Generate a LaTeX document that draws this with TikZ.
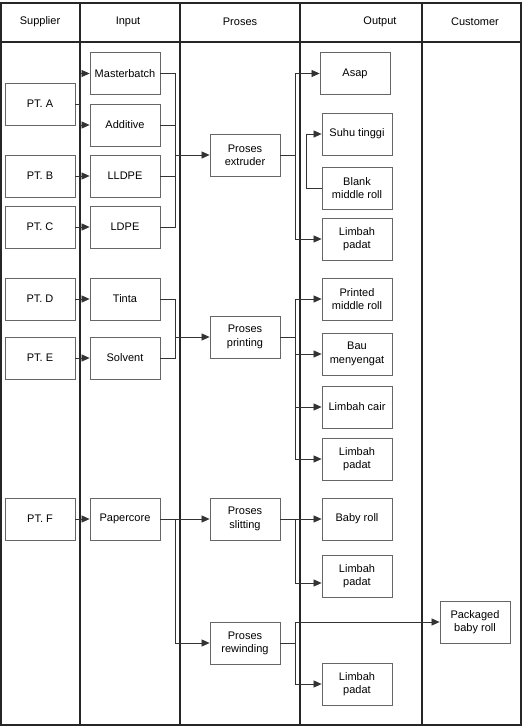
\documentclass[tikz,border=0pt]{standalone}
\usepackage{fontspec}
\setmainfont{Liberation Sans}
\usetikzlibrary{arrows.meta,calc}
\begin{document}
\begin{tikzpicture}[x=1pt,y=-1pt,
  box/.style={draw=black!60, line width=0.8pt, minimum width=70pt, minimum height=42pt, inner sep=1pt, align=center, font=\fontsize{11}{13.3}\selectfont},
  hdr/.style={font=\fontsize{11}{13}\selectfont},
  frame/.style={line width=1.4pt, black!85},
  conn/.style={line width=0.7pt, black!80},
  arr/.style={conn, -{Triangle[length=8pt,width=7pt]}}]
\useasboundingbox (0,0) rectangle (523,727);
% frame
\draw[frame] (1,3) rectangle (521,725);
\draw[frame] (1,42) -- (521,42);
\foreach \x in {80,180,300,422} \draw[frame] (\x,3) -- (\x,725);
% headers
\node[hdr] (hsup) at (40,22) {Supplier};
\node[hdr] (hin) at (128,22) {Input};
\node[hdr] (hpro) at (240,22) {Proses};
\node[hdr] (hout) at (380,22) {Output};
\node[hdr] (hcus) at (475,22) {Customer};
% suppliers
\node[box] (pa) at (40,104) {PT. A};
\node[box] (pb) at (40,176) {PT. B};
\node[box] (pc) at (40,227) {PT. C};
\node[box] (pd) at (40,299) {PT. D};
\node[box] (pe) at (40,358) {PT. E};
\node[box] (pf) at (40,519) {PT. F};
% inputs
\node[box] (mb) at (125,73.5) {Masterbatch};
\node[box] (ad) at (125,125) {Additive};
\node[box] (ll) at (125,176) {LLDPE};
\node[box] (ld) at (125,227) {LDPE};
\node[box] (ti) at (125,299) {Tinta};
\node[box] (so) at (125,358) {Solvent};
\node[box] (pco) at (125,519) {Papercore};
% processes
\node[box] (pex) at (245,155) {Proses\\extruder};
\node[box] (ppr) at (245,337) {Proses\\printing};
\node[box] (psl) at (245,519) {Proses\\slitting};
\node[box] (prw) at (245,643) {Proses\\rewinding};
% outputs
\node[box] (asap) at (355,73.5) {Asap};
\node[box] (suhu) at (357,134) {Suhu tinggi};
\node[box] (blank) at (357,188) {Blank\\middle roll};
\node[box] (lp1) at (357,239) {Limbah\\padat};
\node[box] (pmr) at (357,299) {Printed\\middle roll};
\node[box] (bau) at (357,354) {Bau\\menyengat};
\node[box] (lc) at (357,407) {Limbah cair};
\node[box] (lp2) at (357,459) {Limbah\\padat};
\node[box] (baby) at (357,519) {Baby roll};
\node[box] (lp3) at (357,576) {Limbah\\padat};
\node[box] (lp4) at (357,684) {Limbah\\padat};
% customer
\node[box] (pkg) at (475,622) {Packaged\\baby roll};
% supplier -> input
\coordinate (ja) at (80,104);
\draw[conn] (pa.east) -- (ja);
\draw[arr] (ja) |- (mb.west);
\draw[arr] (ja) |- (ad.west);
\draw[arr] (pb.east) -- (ll.west);
\draw[arr] (pc.east) -- (ld.west);
\draw[arr] (pd.east) -- (ti.west);
\draw[arr] (pe.east) -- (so.west);
\draw[arr] (pf.east) -- (pco.west);
% input -> process
\coordinate (b1) at (175,155);
\draw[conn] (mb.east) -| (b1);
\draw[conn] (ad.east) -| (b1);
\draw[conn] (ll.east) -| (b1);
\draw[conn] (ld.east) -| (b1);
\draw[arr] (b1) -- (pex.west);
\coordinate (b2) at (175,337);
\draw[conn] (ti.east) -| (b2);
\draw[conn] (so.east) -| (b2);
\draw[arr] (b2) -- (ppr.west);
\coordinate (b3) at (175,519);
\draw[arr] (pco.east) -- (psl.west);
\draw[arr] (b3) |- (prw.west);
% process -> output
\coordinate (e1) at (295,155);
\draw[conn] (pex.east) -- (e1);
\draw[arr] (e1) |- (asap.west);
\draw[arr] (e1) |- (lp1.west);
\draw[arr] (blank.west) -- ++(-15,0) |- (suhu.west);
\coordinate (e2) at (295,337);
\draw[conn] (ppr.east) -- (e2);
\draw[arr] (e2) |- (pmr.west);
\draw[arr] (e2) |- (bau.west);
\draw[arr] (e2) |- (lc.west);
\draw[arr] (e2) |- (lp2.west);
\coordinate (e3) at (295,519);
\draw[conn] (psl.east) -- (e3);
\draw[arr] (e3) -- (baby.west);
\draw[arr] (e3) |- ($(lp3.west)+(0,7)$);
\coordinate (e4) at (295,643);
\draw[conn] (prw.east) -- (e4);
\draw[arr] (e4) |- (pkg.west);
\draw[arr] (e4) |- (lp4.west);
\end{tikzpicture}
\end{document}
